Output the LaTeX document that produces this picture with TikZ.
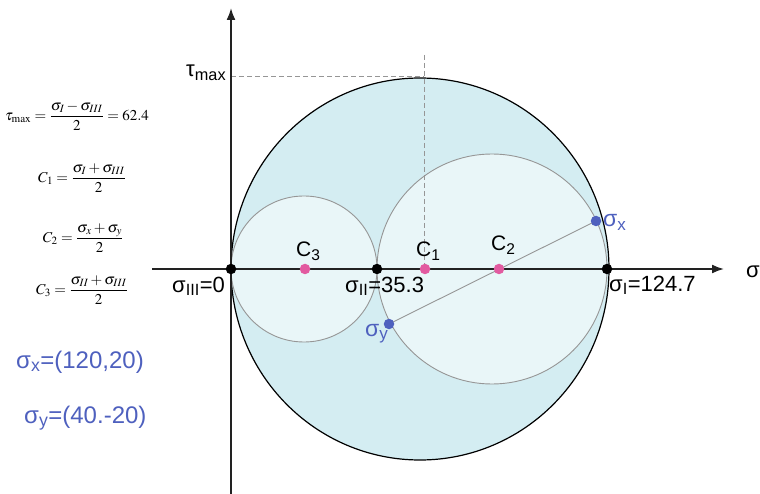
\documentclass[tikz,border=0pt]{standalone}
\usepackage{mathptmx}
\usepackage[no-math]{fontspec}
\setmainfont{Liberation Sans}
\usetikzlibrary{arrows.meta}
\definecolor{outerfill}{RGB}{212,237,242}
\definecolor{innerfill}{RGB}{233,246,248}
\definecolor{ptblue}{RGB}{78,96,190}
\definecolor{ptpink}{RGB}{226,90,160}
\definecolor{axisdark}{RGB}{34,34,34}
\definecolor{circgray}{RGB}{150,150,150}
\begin{document}
\begin{tikzpicture}[x=1pt,y=-1pt,
  axisline/.style={draw=axisdark,line width=1.8pt},
  innercirc/.style={draw=circgray,line width=0.9pt,fill=innerfill},
  guide/.style={draw=circgray,line width=0.8pt,dashed,dash pattern=on 5pt off 3pt},
  dotk/.style={circle,fill=black,inner sep=0pt,minimum size=10.5pt},
  dotp/.style={circle,fill=ptpink,inner sep=0pt,minimum size=10.5pt},
  dotb/.style={circle,fill=ptblue,inner sep=0pt,minimum size=10.5pt},
  lbl/.style={inner sep=0pt,font=\fontsize{22}{26}\selectfont},
  clbl/.style={inner sep=0pt,font=\fontsize{21}{25}\selectfont},
  blbl/.style={inner sep=0pt,text=ptblue,font=\fontsize{23}{27}\selectfont},
  biglbl/.style={inner sep=0pt,text=ptblue,font=\fontsize{24}{28}\selectfont},
  formula/.style={inner sep=0pt,font=\fontsize{15}{17}\selectfont}]
\useasboundingbox (0,0) rectangle (760,494);
% big circle
\draw[black,line width=1.2pt,fill=outerfill] (420,269) ellipse [x radius=189,y radius=191];
% inner circles
\draw[innercirc] (492,269) circle (115);
\draw[innercirc] (304,269) circle (73);
% dashed guides
\coordinate (tm) at (231,76);
\coordinate (tmr) at (424,76);
\coordinate (vt) at (424,55);
\coordinate (vb) at (424,269);
\draw[guide] (tm) -- (tmr);
\draw[guide] (vt) -- (vb);
% sx-sy line
\coordinate (psx) at (596,221);
\coordinate (psy) at (389,324);
\draw[circgray,line width=0.9pt] (psx) -- (psy);
% axes
\coordinate (hx0) at (152,269);
\coordinate (hx1) at (724,269);
\coordinate (vy0) at (231,494);
\coordinate (vy1) at (231,8);
\draw[axisline,-{Latex[length=12pt,width=9pt]}] (hx0) -- (hx1);
\draw[axisline,-{Latex[length=12pt,width=9pt]}] (vy0) -- (vy1);
% dots
\node[dotk] (s3) at (231,269) {};
\node[dotk] (s2) at (377,269) {};
\node[dotk] (s1) at (607,269) {};
\node[dotp] (c3) at (305,269) {};
\node[dotp] (c1) at (425,269) {};
\node[dotp] (c2) at (499,269) {};
\node[dotb] (sx) at (596,221) {};
\node[dotb] (sy) at (389,324) {};
% labels
\node[lbl,anchor=base west] (ls3) at (172,292) {σ\textsubscript{III}=0};
\node[lbl,anchor=base west] (ls2) at (345,292) {σ\textsubscript{II}=35.3};
\node[lbl,anchor=base west] (ls1) at (609,291) {σ\textsubscript{I}=124.7};
\node[clbl,anchor=base west] (lc3) at (296,257) {C\textsubscript{3}};
\node[clbl,anchor=base west] (lc1) at (416,257) {C\textsubscript{1}};
\node[clbl,anchor=base west] (lc2) at (491,251) {C\textsubscript{2}};
\node[blbl,anchor=base west] (lsx) at (603,227) {σ\textsubscript{x}};
\node[blbl,anchor=base west] (lsy) at (365,336) {σ\textsubscript{y}};
\node[lbl,anchor=base west] (ltau) at (186,77) {τ\textsubscript{max}};
\node[lbl,anchor=base west] (lsig) at (746,278) {σ};
% left formulas
\node[formula] (f1) at (77,116) {$\displaystyle\tau_{\mathrm{max}}=\frac{\sigma_I-\sigma_{III}}{2}=62.4$};
\node[formula] (f2) at (82,178) {$\displaystyle C_1=\frac{\sigma_I+\sigma_{III}}{2}$};
\node[formula] (f3) at (83,238) {$\displaystyle C_2=\frac{\sigma_x+\sigma_y}{2}$};
\node[formula] (f4) at (82,290) {$\displaystyle C_3=\frac{\sigma_{II}+\sigma_{III}}{2}$};
% given stresses
\node[biglbl,anchor=base west] (gx) at (16,368) {σ\textsubscript{x}=(120,20)};
\node[biglbl,anchor=base west] (gy) at (24,423) {σ\textsubscript{y}=(40.-20)};
\end{tikzpicture}
\end{document}
